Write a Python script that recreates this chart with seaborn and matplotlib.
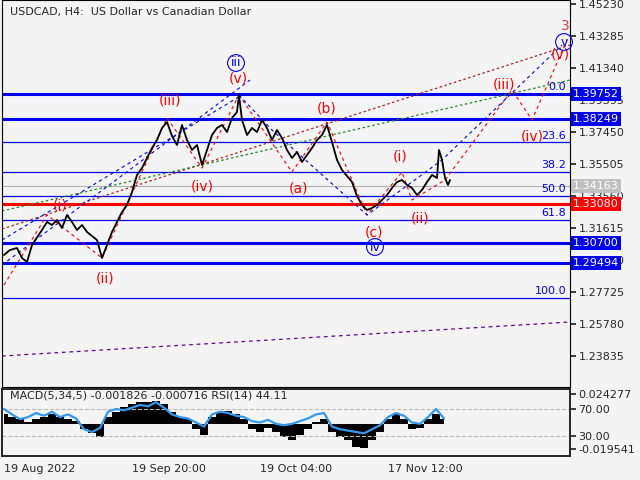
import numpy as np
import pandas as pd
import matplotlib
matplotlib.use("Agg")
import matplotlib.pyplot as plt
import seaborn as sns

# price path (x in px, y in px)
px_x = [2, 8, 15, 20, 25, 30, 40, 45, 50, 55, 60, 65, 70, 75, 80, 85, 90, 95, 100, 105,
        110, 115, 120, 125, 130, 135, 140, 145, 150, 155, 160, 165, 170, 175, 180, 185,
        190, 195, 200, 205, 210, 215, 220, 225, 230, 235, 237, 240, 245, 250, 255, 260,
        265, 270, 275, 280, 285, 290, 295, 300, 305, 310, 315, 320, 325, 330, 335, 340,
        345, 350, 355, 360, 365, 370, 375, 380, 385, 390, 395, 400, 405, 410, 415, 420,
        425, 430, 435, 437, 440, 443, 446, 448]
px_y = [255, 250, 248, 258, 262, 245, 230, 222, 225, 220, 228, 215, 222, 230, 225, 232,
        236, 240, 258, 245, 232, 222, 212, 205, 192, 175, 168, 158, 148, 140, 128, 122,
        136, 145, 125, 140, 150, 145, 165, 150, 135, 128, 125, 132, 118, 112, 95, 120,
        135, 128, 132, 120, 128, 140, 130, 138, 150, 158, 152, 162, 155, 148, 140, 135,
        125, 142, 160, 170, 176, 182, 196, 205, 210, 208, 205, 200, 195, 188, 182, 180,
        185, 188, 195, 190, 182, 175, 178, 150, 160, 178, 185, 180]

levels_thick = [1.39752, 1.38249, 1.30700, 1.29494]
fib_pct = ["0.0", "23.6", "38.2", "50.0", "61.8", "100.0"]
fib_lvl = [1.39752, 1.36828, 1.35019, 1.33557, 1.32095, 1.27360]
red_level = 1.33080
last_price = 1.34163
yticks = [1.45230, 1.43285, 1.41340, 1.39395, 1.37450, 1.35505, 1.33560,
          1.31615, 1.29670, 1.27725, 1.25780, 1.23835]
date_labels = ["19 Aug 2022", "19 Sep 20:00", "19 Oct 04:00", "17 Nov 12:00"]
date_px = [2, 130, 258, 386]

hist_x = list(range(2, 450, 8))
macd_hist = [0.008, 0.006, 0.004, 0.002, 0.004, 0.006, 0.008, 0.006, 0.004, 0.003,
             -0.004, -0.007, -0.010, 0.006, 0.010, 0.014, 0.016, 0.018, 0.018, 0.019,
             0.016, 0.010, 0.006, 0.004, -0.004, -0.008, 0.006, 0.010, 0.011, 0.008,
             0.004, -0.004, -0.006, -0.003, -0.006, -0.010, -0.012, -0.008, -0.004,
             0.002, 0.004, -0.006, -0.010, -0.012, -0.018, -0.019, -0.012, -0.006,
             0.004, 0.008, 0.004, -0.004, -0.003, 0.004, 0.008, 0.004]
rsi = [70, 62, 55, 58, 64, 60, 66, 58, 62, 56, 40, 36, 42, 66, 70, 68, 72, 76, 74, 80,
       72, 62, 58, 56, 50, 44, 62, 66, 64, 60, 58, 52, 50, 54, 48, 46, 48, 52, 56, 62,
       64, 44, 40, 38, 36, 34, 40, 46, 58, 64, 60, 50, 48, 58, 70, 56]

P0, PY, SC = 1.45230, 4, 0.000608
def p(y):
    return P0 - (y - PY) * SC

price = pd.DataFrame({"x": np.array(px_x) / 4, "price": [p(v) for v in px_y]})
ind = pd.DataFrame({"x": np.array(hist_x) / 4, "macd": macd_hist, "rsi": rsi})

sns.set_theme(style="white")
plt.rcParams["font.family"] = ["DejaVu Sans"]
bg = "#f4f4f4"
fig = plt.figure(figsize=(6.4, 4.8), dpi=100, facecolor=bg)
ax = fig.add_axes([2 / 640, 93 / 480, 568 / 640, 387 / 480], facecolor=bg)
ymin, ymax = p(387), p(0)
ax.set_xlim(0, 142)
ax.set_ylim(ymin, ymax)

for lv in levels_thick:
    ax.axhline(lv, color="#0000ee", lw=2.2)
for lv, pc in zip(fib_lvl, fib_pct):
    ax.axhline(lv, color="#0000ee", lw=0.9)
    ax.text(141, lv + 0.001, pc, color="#0000ee", fontsize=8, ha="right", va="bottom")
ax.axhline(red_level, color="red", lw=2.2)
ax.axhline(last_price, color="#b0b0b0", lw=0.8)

# trend channels
ax.plot([0, 142], [p(356), p(322)], color="#660099", ls=(0, (3, 3)), lw=0.9)
ax.plot([0, 142], [p(229), p(45)], color="#aa2222", ls=(0, (2, 2)), lw=0.9)
ax.plot([0, 142], [p(211), p(80)], color="#228822", ls=(0, (2, 2)), lw=0.9)
ax.plot([0, 62], [p(265), p(80)], color="#0000ee", ls=(0, (3, 3)), lw=0.8)
ax.plot([0, 60], [p(240), p(95)], color="#0000ee", ls=(0, (3, 3)), lw=0.8)

# wave paths
red_path = [(2, 285), (45, 215), (100, 258), (165, 118), (200, 168), (237, 95)]
ax.plot([a / 4 for a, b in red_path], [p(b) for a, b in red_path], color="red", ls=(0, (3, 3)), lw=0.8)
red_b = [(237, 95), (290, 172), (325, 122), (365, 215), (400, 172), (410, 200), (443, 180),
         (510, 90), (530, 120), (565, 40)]
ax.plot([a / 4 for a, b in red_b], [p(b) for a, b in red_b], color="red", ls=(0, (3, 3)), lw=0.8)
blue_b = [(237, 95), (270, 130), (365, 215), (440, 160), (560, 45)]
ax.plot([a / 4 for a, b in blue_b], [p(b) for a, b in blue_b], color="#0000ee", ls=(0, (3, 3)), lw=0.8)

sns.lineplot(data=price, x="x", y="price", color="black", lw=1.3, ax=ax)

red_labels = [("(i)", 58, 205), ("(ii)", 103, 278), ("(iii)", 168, 100), ("(iv)", 200, 186),
              ("(v)", 236, 78), ("(a)", 297, 188), ("(b)", 325, 108), ("(c)", 372, 233),
              ("(i)", 398, 157), ("(ii)", 418, 218), ("(iii)", 502, 84), ("(iv)", 530, 137),
              ("(v)", 558, 54)]
for t, a, b in red_labels:
    ax.text(a / 4, p(b), t, color="red", fontsize=10, ha="center", va="center")
ax.text(563 / 4, p(26), "3", color="#cc4444", fontsize=10, ha="center", va="center")
for t, a, b in [("iii", 234, 63), ("iv", 373, 247), ("v", 562, 42)]:
    ax.text(a / 4, p(b), t, color="#0000ee", fontsize=9, ha="center", va="center",
            bbox=dict(boxstyle="circle,pad=0.15", fc="none", ec="#0000ee", lw=0.8))

ax.text(2, p(12), "USDCAD, H4:  US Dollar vs Canadian Dollar", fontsize=8, va="center")

ax.yaxis.tick_right()
ax.set_yticks(yticks)
ax.set_yticklabels([f"{v:.5f}" for v in yticks], fontsize=8)
ax.tick_params(axis="y", length=4, direction="out", pad=2)
ax.set_xticks([])
ax.set_xlabel("")
ax.set_ylabel("")
for lv, fc in [(1.39752, "#0000ee"), (1.38249, "#0000ee"), (1.30700, "#0000ee"),
               (1.29494, "#0000ee"), (red_level, "red"), (last_price, "#c0c0c0")]:
    ax.text(1.005, lv, f"{lv:.5f}", transform=ax.get_yaxis_transform(), fontsize=8,
            color="white", va="center", ha="left", zorder=10, clip_on=False,
            bbox=dict(boxstyle="square,pad=0.2", fc=fc, ec="none"))
for s in ax.spines.values():
    s.set_color("black")
    s.set_linewidth(0.8)

# indicator panel
ax2 = fig.add_axes([2 / 640, 24 / 480, 568 / 640, 67 / 480], facecolor=bg)
ax2.set_xlim(0, 142)
ax2.set_ylim(-0.02512, 0.02826)
ax2.fill_between(ind["x"], 0, ind["macd"], color="black", step="mid", lw=0)
ax3 = ax2.twinx()
ax3.set_ylim(0.4, 99.6)
ax3.axhline(70, color="#bbbbbb", ls="--", lw=0.8)
ax3.axhline(30, color="#bbbbbb", ls="--", lw=0.8)
sns.lineplot(data=ind, x="x", y="rsi", color="#3399ee", lw=1.6, ax=ax3)
ax3.set_yticks([70, 30])
ax3.set_yticklabels(["70.00", "30.00"], fontsize=8)
ax3.tick_params(axis="y", length=4, pad=2)
ax3.set_ylabel("")
ax3.set_xlabel("")

ax2.yaxis.tick_right()
ax2.yaxis.set_label_position("right")
ax2.set_yticks([0.024277, -0.019541])
ax2.set_yticklabels(["0.024277", "-0.019541"], fontsize=8)
ax2.tick_params(axis="y", left=False, labelleft=False, right=True, labelright=True, length=4, pad=2)
ax2.set_xticks([v / 4 for v in date_px])
ax2.set_xticklabels(date_labels, fontsize=8, ha="left")
ax2.tick_params(axis="x", length=4, pad=2)
ax2.set_ylabel("")
ax2.set_xlabel("")
ax3.text(2, 90, "MACD(5,34,5) -0.001826 -0.000716 RSI(14) 44.11", fontsize=8, va="center")

fig.savefig("out.png", dpi=100, facecolor=bg)
